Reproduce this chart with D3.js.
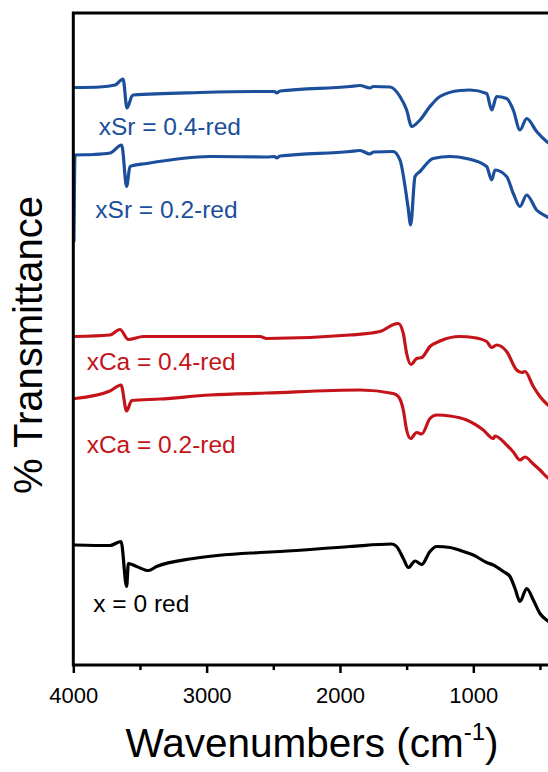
<!DOCTYPE html>
<html>
<head>
<meta charset="utf-8">
<script src="https://cdn.jsdelivr.net/npm/d3@7"></script>
<style>
html,body{margin:0;padding:0;background:#fff;}
svg{display:block;font-family:Arial,"Liberation Sans",sans-serif;}
</style>
</head>
<body>
<svg id="chart" width="548" height="772"></svg>
<script>
// ---- data (wavenumber cm^-1, transmittance with offset, arbitrary units) ----
const xTickValues = [4000, 3000, 2000, 1000];
const xMinorTicks = [3500, 2500, 1500, 500];

const sr04Wn = [3987,3800,3687,3627,3597,3560,3550,3050,2600,2490,2475,2450,1925,1850,1775,1750,1625,1550,1500,1462,1400,1325,1250,1100,1025,900,862,825,750,700,650,600,525,450,400];
const sr04T  = [115.5,115.6,116,117.2,111.4,113.8,114,114.5,114.7,114.7,114.4,114.8,115.7,115.9,115.4,115.7,115.6,113.7,111,107.7,109,111.7,113.7,114.9,115,114.3,111,113.7,113.3,111,107,109.3,106.7,104.7,103.8];

const sr02Wn = [3995,3987,3850,3725,3637,3600,3575,3450,2975,2550,2490,2475,2450,1925,1850,1775,1750,1602,1550,1490,1470,1437,1400,1302,1175,1050,900,862,837,750,700,650,600,525,450,400];
const sr02T  = [84.8,102,102.1,102.4,104,95.7,99.7,100.3,101.7,101.6,101.7,101.4,101.8,102.7,102.9,102.2,102.6,102.7,101,91.7,88,97.7,98.7,101.3,101.7,101.3,99.7,97,99,97.7,94.3,91.7,94,91,89.7,89];

const ca04Wn = [3987,3725,3650,3587,3475,2600,2550,1925,1700,1587,1562,1525,1500,1467,1425,1387,1325,1250,1100,1000,900,862,825,750,675,637,612,550,500,440,400];
const ca04T  = [65.7,66,67.1,65.1,65.7,65.7,65.3,66,66.7,68.2,68.3,66.3,62.3,60.1,61.3,61.5,63.7,64.8,65.7,65.5,64.7,63.5,64,62.7,59,58.5,58.7,55.7,53.7,52,51.2];

const ca02Wn = [3987,3725,3642,3600,3562,3350,2975,2550,1850,1600,1562,1525,1500,1470,1425,1387,1325,1275,1175,1050,925,850,837,750,700,650,612,550,500,440,400];
const ca02T  = [53.3,54.8,56,50.8,52.9,53.2,54,54.4,55,54.3,53.7,51,47,45.3,46.5,46.2,49.3,50,49.8,49,47,45.3,45.8,44,42.6,41,41.6,40.2,39,37.4,36.8];

const x0Wn = [3987,3725,3642,3600,3587,3525,3437,3375,3100,2600,2450,1925,1612,1575,1525,1487,1437,1387,1325,1275,1175,1075,1000,900,850,775,725,687,650,600,550,500,450,400];
const x0T  = [24,23.9,24.7,15.7,20.3,19.7,18.9,19.7,21.3,22.5,22.7,23.7,24.2,23.7,21.3,19.5,20.8,20.1,22.7,23.7,23.5,22.7,22,20.5,20,18.7,17.7,15.3,12.7,15.3,13,10.3,9,8.2];

const seriesNames  = ["xSr = 0.4-red","xSr = 0.2-red","xCa = 0.4-red","xCa = 0.2-red","x = 0 red"];
const seriesWn     = [sr04Wn, sr02Wn, ca04Wn, ca02Wn, x0Wn];
const seriesT      = [sr04T, sr02T, ca04T, ca02T, x0T];
const seriesColors = ["#1b4f9b","#1b4f9b","#c4141a","#c4141a","#000000"];
// label anchor positions in data units (wavenumber, transmittance)
const labelWn = [3810, 3835, 3900, 3900, 3850];
const labelT  = [106, 89.4, 59, 42.4, 10.6];

// ---- layout ----
const svg = d3.select("#chart");
const mLeft = 73.3, mRight = 553.3, mTop = 13, mBottom = 665;
const x = d3.scaleLinear().domain([4000, 400]).range([mLeft, mRight]);
const y = d3.scaleLinear().domain([0, 130]).range([mBottom, 15]);

// lines
const line = d3.line().x(d => x(d[0])).y(d => y(d[1])).curve(d3.curveMonotoneX);
seriesWn.forEach((wn, i) => {
  const pts = wn.map((w, j) => [w, seriesT[i][j]]);
  svg.append("path").attr("d", line(pts))
    .attr("fill", "none").attr("stroke", seriesColors[i])
    .attr("stroke-width", 3.2).attr("stroke-linejoin", "round").attr("stroke-linecap","round");
});

// frame
svg.append("rect").attr("x", mLeft).attr("y", mTop).attr("width", mRight - mLeft).attr("height", mBottom - mTop)
  .attr("fill", "none").attr("stroke", "#000").attr("stroke-width", 3);

// x axis
const xAxis = d3.axisBottom(x).tickValues(xTickValues).tickSize(8).tickSizeOuter(0).tickPadding(14).tickFormat(d3.format("d"));
const gx = svg.append("g").attr("transform", `translate(0,${mBottom})`).call(xAxis);
gx.select(".domain").remove();
gx.selectAll(".tick line").attr("stroke-width", 2.5);
gx.selectAll(".tick text").attr("font-size", 22).attr("font-family", "Arial, 'Liberation Sans', sans-serif").attr("fill", "#000");
const xMinor = d3.axisBottom(x).tickValues(xMinorTicks).tickSize(5).tickSizeOuter(0).tickFormat("");
const gxm = svg.append("g").attr("transform", `translate(0,${mBottom})`).call(xMinor);
gxm.select(".domain").remove();
gxm.selectAll(".tick line").attr("stroke-width", 2.5);

// axis titles
const xt = svg.append("text").attr("x", 312).attr("y", 757).attr("text-anchor", "middle")
  .attr("font-size", 40.5).attr("fill", "#000");
xt.append("tspan").text("Wavenumbers (cm");
xt.append("tspan").attr("font-size", 24).attr("dy", -17).text("-1");
xt.append("tspan").attr("dy", 17).text(")");

svg.append("text").attr("transform", "translate(42,345) rotate(-90)").attr("text-anchor", "middle")
  .attr("font-size", 40).attr("fill", "#000").text("% Transmittance");

// series labels
seriesNames.forEach((name, i) => {
  svg.append("text").attr("x", x(labelWn[i])).attr("y", y(labelT[i]))
    .attr("font-size", 24.5).attr("fill", seriesColors[i]).text(name);
});
</script>
</body>
</html>
